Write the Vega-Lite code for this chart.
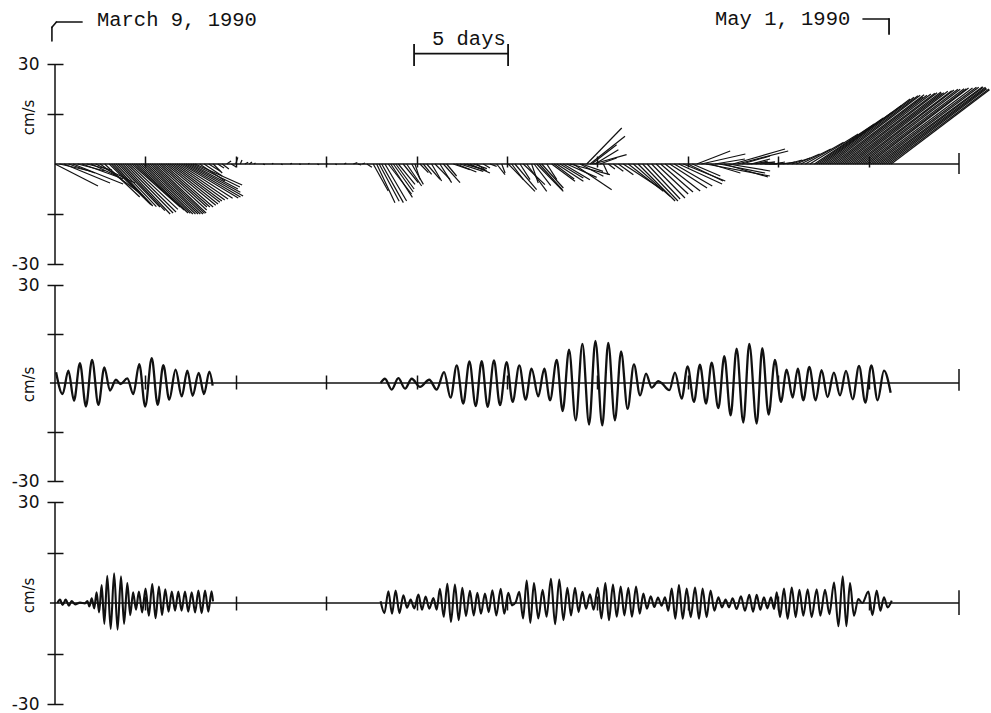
{
  "$schema": "https://vega.github.io/schema/vega-lite/v6.json",
  "background": "white",
  "padding": {"left": 11, "top": 8, "right": 0, "bottom": 0},
  "bounds": "flush",
  "spacing": 21,
  "config": {
    "view": {"stroke": null},
    "axis": {
      "grid": false, "domain": false, "tickColor": "#111", "tickWidth": 1.5,
      "labelColor": "#111", "titleColor": "#111",
      "labelFont": "DejaVu Sans", "labelFontSize": 17,
      "titleFont": "DejaVu Sans", "titleFontSize": 15, "titleFontWeight": "normal"
    }
  },
  "datasets": {
    "sticks": [
      {"t":0,"u":12.9,"v":-6.6},{"t":0.25,"u":9.2,"v":-2.1},{"t":0.5,"u":13.8,"v":-5.7},{"t":0.75,"u":7.9,"v":-2.7},
      {"t":1,"u":15,"v":-6},{"t":1.25,"u":8.2,"v":-2.1},{"t":1.5,"u":10.8,"v":-3.9},{"t":1.75,"u":7.6,"v":-1.8},
      {"t":2,"u":9.6,"v":-4.5},{"t":2.25,"u":11.8,"v":-5.7},{"t":2.5,"u":11.1,"v":-8.1},{"t":2.75,"u":10.5,"v":-9.9},
      {"t":3,"u":12.3,"v":-12},{"t":3.125,"u":12,"v":-12.3},{"t":3.25,"u":11.7,"v":-12.6},{"t":3.375,"u":12.1,"v":-12.8},
      {"t":3.5,"u":12.5,"v":-12.9},{"t":3.625,"u":13.3,"v":-14},{"t":3.75,"u":14.2,"v":-15},{"t":3.875,"u":14.4,"v":-14.7},
      {"t":4,"u":14.6,"v":-14.4},{"t":4.125,"u":14.5,"v":-13.6},{"t":4.25,"u":14.5,"v":-12.9},{"t":4.375,"u":15,"v":-13.8},
      {"t":4.5,"u":15.5,"v":-14.7},{"t":4.625,"u":15.5,"v":-14.8},{"t":4.75,"u":15.6,"v":-15},{"t":4.875,"u":15.7,"v":-15},
      {"t":5,"u":15.8,"v":-15},{"t":5.125,"u":15.8,"v":-15},{"t":5.25,"u":15.9,"v":-15},{"t":5.375,"u":15.7,"v":-14.8},
      {"t":5.5,"u":15.5,"v":-14.7},{"t":5.625,"u":15,"v":-13.8},{"t":5.75,"u":14.4,"v":-12.9},{"t":5.875,"u":14.6,"v":-12.9},
      {"t":6,"u":14.9,"v":-12.9},{"t":6.125,"u":15,"v":-12.4},{"t":6.25,"u":15,"v":-12},{"t":6.375,"u":14.9,"v":-11.5},
      {"t":6.5,"u":14.8,"v":-11.1},{"t":6.625,"u":15,"v":-10.8},{"t":6.75,"u":15.3,"v":-10.5},{"t":6.875,"u":16,"v":-10.3},
      {"t":7,"u":17,"v":-10.2},{"t":7.125,"u":17,"v":-9.9},{"t":7.25,"u":17.1,"v":-9.6},{"t":7.375,"u":15.6,"v":-8.5},
      {"t":7.5,"u":14.2,"v":-7.5},{"t":7.625,"u":14.1,"v":-6.9},{"t":7.75,"u":14.1,"v":-6.3},{"t":8,"u":7.6,"v":-5.1},
      {"t":8.25,"u":5.4,"v":-3.6},{"t":8.5,"u":3.4,"v":-2.1},{"t":8.75,"u":2.7,"v":-2.7},{"t":9,"u":1.9,"v":-1.2},
      {"t":9.25,"u":2,"v":-1.5},{"t":9.5,"u":1.3,"v":0.9},{"t":9.75,"u":1.5,"v":-0.9},{"t":10,"u":0.6,"v":2},
      {"t":10.25,"u":0.5,"v":1.2},{"t":10.5,"u":1,"v":0.5},{"t":10.75,"u":0.8,"v":0.6},{"t":11,"u":0.5,"v":0.3},
      {"t":11.5,"u":0.6,"v":-0.2},{"t":12,"u":0.4,"v":0.2},{"t":12.5,"u":0.5,"v":-0.2},{"t":13,"u":0.6,"v":0.2},
      {"t":13.5,"u":0.5,"v":-0.1},{"t":14,"u":0.4,"v":0.2},{"t":14.5,"u":0.6,"v":-0.2},{"t":15,"u":0.4,"v":0.1},
      {"t":15.5,"u":0.5,"v":-0.2},{"t":16,"u":0.6,"v":0.3},{"t":16.5,"u":1.2,"v":0.4},{"t":16.75,"u":1,"v":-0.3},
      {"t":17,"u":0.8,"v":0.3},{"t":17.25,"u":1.5,"v":-1},
      {"t":17.6,"u":4.5,"v":-8.1},{"t":17.79,"u":5.5,"v":-11.6},{"t":17.93,"u":6,"v":-11.2},{"t":18.07,"u":6.5,"v":-11.6},
      {"t":18.25,"u":6.5,"v":-11.1},{"t":18.43,"u":7,"v":-9},{"t":18.57,"u":6.5,"v":-10},{"t":18.71,"u":6,"v":-8.4},
      {"t":18.85,"u":5.5,"v":-7.5},{"t":18.99,"u":5,"v":-6.1},{"t":19.26,"u":4.5,"v":-5.6},{"t":19.45,"u":4.5,"v":-6.6},
      {"t":19.73,"u":3.5,"v":-6.1},{"t":19.91,"u":1.5,"v":-4.6},{"t":20.19,"u":2.5,"v":-2.6},{"t":20.37,"u":2.5,"v":-3.1},
      {"t":20.56,"u":4,"v":-4.6},{"t":20.83,"u":3,"v":-5.1},{"t":21.02,"u":4.5,"v":-4.6},{"t":21.29,"u":3.5,"v":-5.6},
      {"t":21.48,"u":5,"v":-5.6},{"t":21.66,"u":3,"v":-3.6},{"t":22.03,"u":5,"v":-1.7},{"t":22.2,"u":6,"v":-2.4},
      {"t":22.4,"u":7,"v":-2.2},{"t":22.6,"u":5.5,"v":-1.5},{"t":22.77,"u":6,"v":-2},{"t":22.95,"u":6,"v":-2.7},
      {"t":23.15,"u":4,"v":-1.4},{"t":23.32,"u":2.5,"v":-1.7},{"t":23.69,"u":2,"v":-1.2},{"t":24.06,"u":2,"v":-0.7},
      {"t":24.43,"u":2.5,"v":-3.2},{"t":24.71,"u":1,"v":-2.7},
      {"t":25.07,"u":8,"v":-8.2},{"t":25.26,"u":3.5,"v":-4.7},{"t":25.44,"u":6.5,"v":-7.7},{"t":25.72,"u":3,"v":-4.7},
      {"t":25.9,"u":6.5,"v":-6.2},{"t":26.09,"u":6,"v":-8.2},{"t":26.36,"u":2,"v":-5.7},{"t":26.5,"u":5,"v":-6.5},
      {"t":26.64,"u":8,"v":-8.2},{"t":26.78,"u":7,"v":-7.8},{"t":26.92,"u":6.5,"v":-7.2},{"t":27.2,"u":3,"v":-4.7},
      {"t":27.47,"u":7,"v":-5.2},{"t":27.61,"u":6,"v":-4.5},{"t":27.75,"u":8,"v":-5.2},{"t":27.93,"u":7,"v":-4.2},
      {"t":28.11,"u":8,"v":-4.7},{"t":28.3,"u":9,"v":-4},{"t":28.48,"u":12,"v":-3.2},{"t":28.67,"u":11.5,"v":-7.7},
      {"t":29.04,"u":7,"v":-3.7},{"t":29.13,"u":6.4,"v":-2.2},
      {"t":29.41,"u":10.5,"v":10.8},{"t":29.59,"u":10.5,"v":8.3},{"t":29.68,"u":7.5,"v":5.8},{"t":29.77,"u":10,"v":2.8},
      {"t":29.87,"u":7,"v":4.3},{"t":30.14,"u":5,"v":1.8},{"t":30.33,"u":1.5,"v":-3.2},
      {"t":30.6,"u":2,"v":-1.5},{"t":30.88,"u":3,"v":-2.2},{"t":31.16,"u":4.5,"v":-3.2},{"t":31.43,"u":11,"v":-7.2},
      {"t":31.71,"u":10.5,"v":-8.2},{"t":31.99,"u":11,"v":-9.7},{"t":32.25,"u":11.1,"v":-11.1},{"t":32.5,"u":10.6,"v":-11.1},
      {"t":32.75,"u":9.9,"v":-10.5},{"t":33,"u":10,"v":-10.2},{"t":33.25,"u":9.6,"v":-9},{"t":33.5,"u":9.7,"v":-8.4},
      {"t":33.75,"u":10.5,"v":-8.1},{"t":34,"u":11.2,"v":-7.2},{"t":34.25,"u":11.4,"v":-6.6},{"t":34.5,"u":13,"v":-6},
      {"t":34.75,"u":12.6,"v":-5.1},{"t":35,"u":10.6,"v":-5.1},{"t":35.25,"u":8.4,"v":-3.6},{"t":35.5,"u":10,"v":3.9},
      {"t":35.75,"u":13.2,"v":3},{"t":36,"u":19.2,"v":-3.6},{"t":36.25,"u":9,"v":-2.7},{"t":36.5,"u":9,"v":1.5},
      {"t":36.75,"u":13.7,"v":-2.7},{"t":37,"u":13.2,"v":-3.9},{"t":37.25,"u":12.5,"v":-2.1},{"t":37.5,"u":15.6,"v":4.5},
      {"t":37.75,"u":15.2,"v":3.9},{"t":38,"u":8.4,"v":2.4},{"t":38.25,"u":8.5,"v":0.6},{"t":38.5,"u":5.7,"v":1.5},
      {"t":38.75,"u":3.7,"v":0.9},{"t":39,"u":4.5,"v":0.6},{"t":39.25,"u":3.7,"v":0},{"t":39.5,"u":4.2,"v":0.3},
      {"t":39.75,"u":3.4,"v":0.6},{"t":40,"u":3.6,"v":0.3},{"t":40.25,"u":3.7,"v":0.6},
      {"t":40.5,"u":4.5,"v":1.2},{"t":40.75,"u":5.5,"v":1.8},{"t":41,"u":7,"v":3},{"t":41.25,"u":9,"v":4.5},
      {"t":41.5,"u":11.5,"v":6.5},{"t":41.75,"u":14.5,"v":9},{"t":42,"u":18,"v":12},{"t":42.125,"u":20,"v":13.8},
      {"t":42.25,"u":22,"v":15.5},{"t":42.375,"u":24,"v":17.5},{"t":42.5,"u":26,"v":19.5},{"t":42.625,"u":26.5,"v":20},
      {"t":42.75,"u":27,"v":20.5},{"t":42.875,"u":27,"v":20.6},{"t":43,"u":27.5,"v":20.8},{"t":43.125,"u":26.5,"v":20.2},
      {"t":43.25,"u":27,"v":20.6},{"t":43.375,"u":27.5,"v":21},{"t":43.5,"u":28,"v":21.2},{"t":43.625,"u":28,"v":21.4},
      {"t":43.75,"u":28.5,"v":21.6},{"t":43.875,"u":28,"v":21.3},{"t":44,"u":28,"v":21.4},{"t":44.125,"u":28.5,"v":21.8},
      {"t":44.25,"u":29,"v":22},{"t":44.375,"u":29,"v":22.2},{"t":44.5,"u":29.5,"v":22.4},{"t":44.625,"u":29.5,"v":22.4},
      {"t":44.75,"u":30,"v":22.6},{"t":44.875,"u":30,"v":22.6},{"t":45,"u":30,"v":22.8},{"t":45.125,"u":30.5,"v":22.8},
      {"t":45.25,"u":31,"v":23},{"t":45.375,"u":31,"v":23},{"t":45.5,"u":31.5,"v":23.2},{"t":45.625,"u":31,"v":23},
      {"t":45.75,"u":31,"v":23},{"t":45.875,"u":30.5,"v":22.8},{"t":46,"u":30,"v":22.6},{"t":46.125,"u":30,"v":22.5},
      {"t":46.25,"u":29.5,"v":22.3}
    ],
    "tideA": [
      {"seg":1,"t":0.06,"v":3.3},{"seg":1,"t":0.42,"v":-3.4},{"seg":1,"t":0.74,"v":3.8},{"seg":1,"t":1.05,"v":-5.4},
      {"seg":1,"t":1.38,"v":6.1},{"seg":1,"t":1.71,"v":-7.2},{"seg":1,"t":2.05,"v":7.1},{"seg":1,"t":2.4,"v":-6.7},
      {"seg":1,"t":2.73,"v":4.8},{"seg":1,"t":3.04,"v":-2.3},{"seg":1,"t":3.37,"v":1.0},{"seg":1,"t":3.63,"v":-0.3},
      {"seg":1,"t":4.0,"v":1.4},{"seg":1,"t":4.33,"v":-3.4},{"seg":1,"t":4.66,"v":5.8},{"seg":1,"t":4.99,"v":-7.2},
      {"seg":1,"t":5.35,"v":7.6},{"seg":1,"t":5.68,"v":-6.7},{"seg":1,"t":5.99,"v":5.5},{"seg":1,"t":6.32,"v":-5.1},
      {"seg":1,"t":6.67,"v":4.1},{"seg":1,"t":7.01,"v":-4.1},{"seg":1,"t":7.32,"v":3.8},{"seg":1,"t":7.61,"v":-3.9},
      {"seg":1,"t":7.95,"v":3.1},{"seg":1,"t":8.24,"v":-3.4},{"seg":1,"t":8.54,"v":3.5},{"seg":1,"t":8.72,"v":-0.8},
      {"seg":2,"t":18.01,"v":0},{"seg":2,"t":18.25,"v":1.3},{"seg":2,"t":18.62,"v":-2.0},{"seg":2,"t":18.99,"v":1.5},
      {"seg":2,"t":19.36,"v":-1.7},{"seg":2,"t":19.73,"v":1.3},{"seg":2,"t":20.19,"v":-1.2},{"seg":2,"t":20.7,"v":1.0},
      {"seg":2,"t":21.11,"v":-2.0},{"seg":2,"t":21.52,"v":3.3},{"seg":2,"t":21.88,"v":-4.5},{"seg":2,"t":22.22,"v":5.4},
      {"seg":2,"t":22.58,"v":-6.3},{"seg":2,"t":22.92,"v":6.6},{"seg":2,"t":23.27,"v":-7.1},{"seg":2,"t":23.6,"v":6.7},
      {"seg":2,"t":23.93,"v":-7.3},{"seg":2,"t":24.28,"v":6.9},{"seg":2,"t":24.61,"v":-6.8},{"seg":2,"t":24.98,"v":6.4},
      {"seg":2,"t":25.31,"v":-5.8},{"seg":2,"t":25.68,"v":5.4},{"seg":2,"t":26.03,"v":-5.1},{"seg":2,"t":26.36,"v":4.4},
      {"seg":2,"t":26.73,"v":-4.1},{"seg":2,"t":27.06,"v":4.4},{"seg":2,"t":27.38,"v":-5.3},{"seg":2,"t":27.75,"v":7.1},
      {"seg":2,"t":28.08,"v":-8.6},{"seg":2,"t":28.43,"v":10.2},{"seg":2,"t":28.8,"v":-11.4},{"seg":2,"t":29.17,"v":12.0},
      {"seg":2,"t":29.54,"v":-12.7},{"seg":2,"t":29.89,"v":12.9},{"seg":2,"t":30.27,"v":-13.0},{"seg":2,"t":30.6,"v":12.3},
      {"seg":2,"t":30.97,"v":-11.4},{"seg":2,"t":31.31,"v":9.7},{"seg":2,"t":31.67,"v":-7.9},{"seg":2,"t":32.02,"v":5.7},
      {"seg":2,"t":32.36,"v":-3.8},{"seg":2,"t":32.69,"v":2.9},{"seg":2,"t":33.0,"v":-1.4},{"seg":2,"t":33.37,"v":0.6},
      {"seg":2,"t":33.55,"v":0.0},{"seg":2,"t":33.98,"v":-2.2},{"seg":2,"t":34.29,"v":3.2},{"seg":2,"t":34.66,"v":-4.8},
      {"seg":2,"t":34.99,"v":5.1},{"seg":2,"t":35.34,"v":-5.8},{"seg":2,"t":35.67,"v":5.6},{"seg":2,"t":36.01,"v":-6.3},
      {"seg":2,"t":36.32,"v":6.2},{"seg":2,"t":36.69,"v":-7.7},{"seg":2,"t":37.02,"v":8.2},{"seg":2,"t":37.37,"v":-9.9},
      {"seg":2,"t":37.7,"v":10.5},{"seg":2,"t":38.07,"v":-12.1},{"seg":2,"t":38.4,"v":12.0},{"seg":2,"t":38.81,"v":-12.4},
      {"seg":2,"t":39.12,"v":10.7},{"seg":2,"t":39.47,"v":-9.7},{"seg":2,"t":39.82,"v":7.1},{"seg":2,"t":40.15,"v":-5.8},
      {"seg":2,"t":40.47,"v":4.1},{"seg":2,"t":40.8,"v":-4.5},{"seg":2,"t":41.08,"v":4.4},{"seg":2,"t":41.39,"v":-5.3},
      {"seg":2,"t":41.72,"v":4.9},{"seg":2,"t":42.07,"v":-5.3},{"seg":2,"t":42.4,"v":3.9},{"seg":2,"t":42.73,"v":-4.3},
      {"seg":2,"t":43.08,"v":3.2},{"seg":2,"t":43.42,"v":-3.8},{"seg":2,"t":43.75,"v":3.7},{"seg":2,"t":44.12,"v":-5.0},
      {"seg":2,"t":44.47,"v":5.2},{"seg":2,"t":44.82,"v":-6.0},{"seg":2,"t":45.15,"v":5.4},{"seg":2,"t":45.5,"v":-5.3},
      {"seg":2,"t":45.85,"v":3.8},{"seg":2,"t":46.22,"v":-3.0}
    ],
    "tideB": [
      {"seg":1,"t":0.13,"v":0},{"seg":1,"t":0.28,"v":1.0},{"seg":1,"t":0.42,"v":-0.6},{"seg":1,"t":0.59,"v":1.0},
      {"seg":1,"t":0.77,"v":-0.8},{"seg":1,"t":0.92,"v":0.6},{"seg":1,"t":1.11,"v":-0.4},{"seg":1,"t":1.38,"v":0.1},
      {"seg":1,"t":1.66,"v":-0.1},{"seg":1,"t":1.79,"v":0.6},{"seg":1,"t":1.9,"v":-1.0},{"seg":1,"t":2.03,"v":1.4},
      {"seg":1,"t":2.17,"v":-1.6},{"seg":1,"t":2.3,"v":3.2},{"seg":1,"t":2.44,"v":-2.8},{"seg":1,"t":2.58,"v":5.3},
      {"seg":1,"t":2.73,"v":-6.2},{"seg":1,"t":2.89,"v":8.1},{"seg":1,"t":3.08,"v":-7.7},{"seg":1,"t":3.27,"v":8.8},
      {"seg":1,"t":3.46,"v":-7.9},{"seg":1,"t":3.65,"v":7.9},{"seg":1,"t":3.82,"v":-6.2},{"seg":1,"t":4.0,"v":5.9},
      {"seg":1,"t":4.16,"v":-3.6},{"seg":1,"t":4.32,"v":3.2},{"seg":1,"t":4.48,"v":-2.0},{"seg":1,"t":4.64,"v":3.4},
      {"seg":1,"t":4.82,"v":-2.8},{"seg":1,"t":5.01,"v":4.3},{"seg":1,"t":5.19,"v":-3.8},{"seg":1,"t":5.38,"v":5.6},
      {"seg":1,"t":5.56,"v":-4.5},{"seg":1,"t":5.75,"v":4.9},{"seg":1,"t":5.92,"v":-3.6},{"seg":1,"t":6.1,"v":4.1},
      {"seg":1,"t":6.28,"v":-2.6},{"seg":1,"t":6.46,"v":3.4},{"seg":1,"t":6.64,"v":-2.3},{"seg":1,"t":6.82,"v":3.4},
      {"seg":1,"t":7.0,"v":-2.3},{"seg":1,"t":7.19,"v":3.4},{"seg":1,"t":7.37,"v":-2.6},{"seg":1,"t":7.56,"v":3.2},
      {"seg":1,"t":7.75,"v":-2.8},{"seg":1,"t":7.93,"v":3.7},{"seg":1,"t":8.11,"v":-3.0},{"seg":1,"t":8.3,"v":3.7},
      {"seg":1,"t":8.48,"v":-2.6},{"seg":1,"t":8.66,"v":3.5},{"seg":1,"t":8.74,"v":0.5},
      {"seg":2,"t":18.01,"v":0.5},{"seg":2,"t":18.22,"v":-3.0},{"seg":2,"t":18.44,"v":3.5},{"seg":2,"t":18.64,"v":-3.2},
      {"seg":2,"t":18.84,"v":3.7},{"seg":2,"t":19.05,"v":-3.0},{"seg":2,"t":19.27,"v":2.3},{"seg":2,"t":19.47,"v":-1.4},
      {"seg":2,"t":19.67,"v":1.0},{"seg":2,"t":19.87,"v":-1.6},{"seg":2,"t":20.1,"v":2.5},{"seg":2,"t":20.3,"v":-2.0},
      {"seg":2,"t":20.5,"v":1.9},{"seg":2,"t":20.7,"v":-1.7},{"seg":2,"t":20.93,"v":1.5},{"seg":2,"t":21.11,"v":-2.0},
      {"seg":2,"t":21.29,"v":4.2},{"seg":2,"t":21.5,"v":-4.1},{"seg":2,"t":21.7,"v":5.7},{"seg":2,"t":21.9,"v":-5.6},
      {"seg":2,"t":22.12,"v":5.5},{"seg":2,"t":22.33,"v":-5.1},{"seg":2,"t":22.53,"v":4.5},{"seg":2,"t":22.73,"v":-3.9},
      {"seg":2,"t":22.95,"v":3.6},{"seg":2,"t":23.16,"v":-3.7},{"seg":2,"t":23.36,"v":3.0},{"seg":2,"t":23.56,"v":-3.2},
      {"seg":2,"t":23.78,"v":2.8},{"seg":2,"t":23.99,"v":-2.7},{"seg":2,"t":24.19,"v":3.8},{"seg":2,"t":24.41,"v":-3.7},
      {"seg":2,"t":24.65,"v":4.2},{"seg":2,"t":24.85,"v":-3.2},{"seg":2,"t":25.07,"v":3.0},{"seg":2,"t":25.28,"v":-0.7},
      {"seg":2,"t":25.48,"v":0.2},{"seg":2,"t":25.68,"v":3.3},{"seg":2,"t":25.89,"v":-4.6},{"seg":2,"t":26.09,"v":6.7},
      {"seg":2,"t":26.29,"v":-5.9},{"seg":2,"t":26.49,"v":5.9},{"seg":2,"t":26.73,"v":-4.6},{"seg":2,"t":26.97,"v":3.9},
      {"seg":2,"t":27.19,"v":-4.1},{"seg":2,"t":27.43,"v":7.2},{"seg":2,"t":27.66,"v":-6.3},{"seg":2,"t":27.89,"v":7.0},
      {"seg":2,"t":28.12,"v":-5.1},{"seg":2,"t":28.34,"v":4.5},{"seg":2,"t":28.54,"v":-3.7},{"seg":2,"t":28.76,"v":4.5},
      {"seg":2,"t":28.96,"v":-2.7},{"seg":2,"t":29.17,"v":3.3},{"seg":2,"t":29.37,"v":-1.7},{"seg":2,"t":29.59,"v":2.6},
      {"seg":2,"t":29.79,"v":-2.0},{"seg":2,"t":30.02,"v":4.5},{"seg":2,"t":30.22,"v":-4.6},{"seg":2,"t":30.44,"v":5.9},
      {"seg":2,"t":30.64,"v":-5.1},{"seg":2,"t":30.86,"v":5.5},{"seg":2,"t":31.07,"v":-4.1},{"seg":2,"t":31.29,"v":4.9},
      {"seg":2,"t":31.49,"v":-3.7},{"seg":2,"t":31.71,"v":4.5},{"seg":2,"t":31.91,"v":-4.1},{"seg":2,"t":32.14,"v":4.9},
      {"seg":2,"t":32.34,"v":-3.2},{"seg":2,"t":32.54,"v":2.8},{"seg":2,"t":32.74,"v":-1.7},{"seg":2,"t":32.95,"v":2.0},
      {"seg":2,"t":33.15,"v":-1.2},{"seg":2,"t":33.35,"v":1.6},{"seg":2,"t":33.55,"v":-0.8},{"seg":2,"t":33.74,"v":1.7},
      {"seg":2,"t":33.92,"v":-2.3},{"seg":2,"t":34.11,"v":4.3},{"seg":2,"t":34.31,"v":-4.7},{"seg":2,"t":34.51,"v":5.3},
      {"seg":2,"t":34.72,"v":-4.7},{"seg":2,"t":34.94,"v":4.3},{"seg":2,"t":35.16,"v":-4.2},{"seg":2,"t":35.4,"v":4.6},
      {"seg":2,"t":35.62,"v":-4.7},{"seg":2,"t":35.82,"v":4.3},{"seg":2,"t":36.04,"v":-4.2},{"seg":2,"t":36.26,"v":3.7},
      {"seg":2,"t":36.47,"v":-2.3},{"seg":2,"t":36.69,"v":1.7},{"seg":2,"t":36.89,"v":-1.3},{"seg":2,"t":37.09,"v":1.0},
      {"seg":2,"t":37.28,"v":-1.3},{"seg":2,"t":37.48,"v":1.4},{"seg":2,"t":37.7,"v":-1.8},{"seg":2,"t":37.94,"v":2.0},
      {"seg":2,"t":38.16,"v":-2.3},{"seg":2,"t":38.4,"v":2.4},{"seg":2,"t":38.61,"v":-2.6},{"seg":2,"t":38.81,"v":2.4},
      {"seg":2,"t":39.01,"v":-2.0},{"seg":2,"t":39.21,"v":1.7},{"seg":2,"t":39.4,"v":-1.6},{"seg":2,"t":39.6,"v":1.7},
      {"seg":2,"t":39.77,"v":-1.8},{"seg":2,"t":39.92,"v":3.2},{"seg":2,"t":40.1,"v":-4.2},{"seg":2,"t":40.32,"v":4.3},
      {"seg":2,"t":40.52,"v":-4.7},{"seg":2,"t":40.75,"v":4.6},{"seg":2,"t":40.97,"v":-4.2},{"seg":2,"t":41.17,"v":3.9},
      {"seg":2,"t":41.39,"v":-3.8},{"seg":2,"t":41.63,"v":4.1},{"seg":2,"t":41.85,"v":-4.2},{"seg":2,"t":42.13,"v":4.1},
      {"seg":2,"t":42.33,"v":-3.8},{"seg":2,"t":42.59,"v":3.9},{"seg":2,"t":42.83,"v":-3.3},{"seg":2,"t":43.09,"v":6.1},
      {"seg":2,"t":43.33,"v":-6.9},{"seg":2,"t":43.57,"v":7.9},{"seg":2,"t":43.77,"v":-6.9},{"seg":2,"t":43.97,"v":5.9},
      {"seg":2,"t":44.19,"v":-3.8},{"seg":2,"t":44.43,"v":1.2},{"seg":2,"t":44.65,"v":0.0},{"seg":2,"t":44.99,"v":3.4},
      {"seg":2,"t":45.21,"v":-3.6},{"seg":2,"t":45.45,"v":3.7},{"seg":2,"t":45.65,"v":-2.3},{"seg":2,"t":45.85,"v":1.7},
      {"seg":2,"t":46.05,"v":-1.3},{"seg":2,"t":46.28,"v":0.7}
    ]
  },
  "vconcat": [
    {
      "width": 904,
      "height": 200,
      "encoding": {
        "x": {"type": "quantitative", "scale": {"domain": [0, 50], "nice": false, "zero": false},
              "axis": {"orient": "bottom", "offset": -108, "tickSize": 11, "title": null, "labels": false,
                       "values": [5, 10, 15, 20, 25, 30, 35, 40, 45]}},
        "y": {"type": "quantitative", "scale": {"domain": [-30, 30], "nice": false},
              "axis": {"orient": "left", "offset": -8, "tickSize": 16, "values": [-30, -15, 15, 30],
                       "labelExpr": "datum.value == 30 ? '30' : datum.value == -30 ? '-30' : ''", "labelPadding": 8,
                       "labelFontSize": 17, "titleFontSize": 15,
                       "title": "cm/s", "titleX": -35, "titleY": 53, "titleAngle": -90, "titleAlign": "center", "titleBaseline": "middle"}}
      },
      "layer": [
        {
          "data": {"name": "sticks"},
          "transform": [{"calculate": "datum.t + datum.u * 0.18437", "as": "tip"}],
          "mark": {"type": "rule", "color": "#111", "strokeWidth": 1.2},
          "encoding": {
            "x": {"field": "tip"},
            "x2": {"field": "t"},
            "y": {"field": "v"},
            "y2": {"datum": 0}
          }
        },
        {
          "data": {"values": [{}]},
          "mark": {"type": "rule", "color": "#111", "strokeWidth": 1.6},
          "encoding": {"x": {"datum": 0}, "x2": {"datum": 50}, "y": {"datum": 0}}
        },
        {
          "data": {"values": [{}]},
          "mark": {"type": "rule", "color": "#111", "strokeWidth": 1.5},
          "encoding": {"x": {"datum": 0}, "y": {"datum": -30}, "y2": {"datum": 30}}
        },
        {
          "data": {"values": [{}]},
          "mark": {"type": "rule", "color": "#111", "strokeWidth": 1.5},
          "encoding": {"x": {"datum": 50}, "y": {"datum": -3.0}, "y2": {"datum": 3.3}}
        },
        {
          "data": {"values": [{}]},
          "mark": {"type": "rule", "color": "#111", "strokeWidth": 1.6, "strokeCap": "round"},
          "encoding": {"x": {"datum": -0.17}, "y": {"datum": 36.9}, "y2": {"datum": 41.0}}
        },
        {
          "data": {"values": [{}]},
          "mark": {"type": "rule", "color": "#111", "strokeWidth": 1.6, "strokeCap": "round"},
          "encoding": {"x": {"datum": -0.17}, "x2": {"datum": 0.08}, "y": {"datum": 41.0}, "y2": {"datum": 42.6}}
        },
        {
          "data": {"values": [{}]},
          "mark": {"type": "rule", "color": "#111", "strokeWidth": 1.6, "strokeCap": "round"},
          "encoding": {"x": {"datum": 0.08}, "x2": {"datum": 1.5}, "y": {"datum": 42.6}}
        },
        {
          "data": {"values": [{}]},
          "mark": {"type": "rule", "color": "#111", "strokeWidth": 1.6},
          "encoding": {"x": {"datum": 19.86}, "x2": {"datum": 25.06}, "y": {"datum": 33.1}}
        },
        {
          "data": {"values": [{}]},
          "mark": {"type": "rule", "color": "#111", "strokeWidth": 1.8},
          "encoding": {"x": {"datum": 19.86}, "y": {"datum": 29.4}, "y2": {"datum": 36.0}}
        },
        {
          "data": {"values": [{}]},
          "mark": {"type": "rule", "color": "#111", "strokeWidth": 1.8},
          "encoding": {"x": {"datum": 25.06}, "y": {"datum": 29.4}, "y2": {"datum": 36.0}}
        },
        {
          "data": {"values": [{}]},
          "mark": {"type": "rule", "color": "#111", "strokeWidth": 1.6, "strokeCap": "round"},
          "encoding": {"x": {"datum": 44.69}, "x2": {"datum": 46.13}, "y": {"datum": 43.5}}
        },
        {
          "data": {"values": [{}]},
          "mark": {"type": "rule", "color": "#111", "strokeWidth": 1.8, "strokeCap": "round"},
          "encoding": {"x": {"datum": 46.13}, "y": {"datum": 39.0}, "y2": {"datum": 43.5}}
        },
        {
          "data": {"values": [{}]},
          "mark": {"type": "text", "text": "March 9, 1990", "font": "Liberation Mono", "fontSize": 20.5, "color": "#111", "align": "left", "baseline": "alphabetic"},
          "encoding": {"x": {"datum": 2.32}, "y": {"datum": 41.5}}
        },
        {
          "data": {"values": [{}]},
          "mark": {"type": "text", "text": "5 days", "font": "Liberation Mono", "fontSize": 20.5, "color": "#111", "align": "left", "baseline": "alphabetic"},
          "encoding": {"x": {"datum": 20.85}, "y": {"datum": 35.7}}
        },
        {
          "data": {"values": [{}]},
          "mark": {"type": "text", "text": "May 1, 1990", "font": "Liberation Mono", "fontSize": 20.5, "color": "#111", "align": "left", "baseline": "alphabetic"},
          "encoding": {"x": {"datum": 36.5}, "y": {"datum": 41.7}}
        }
      ]
    },
    {
      "width": 904,
      "height": 196,
      "encoding": {
        "x": {"type": "quantitative", "scale": {"domain": [0, 50], "nice": false, "zero": false},
              "axis": {"orient": "bottom", "offset": -106, "tickSize": 14, "title": null, "labels": false,
                       "values": [5, 10, 15, 20, 25, 30, 35, 40, 45]}},
        "y": {"type": "quantitative", "scale": {"domain": [-30, 30], "nice": false},
              "axis": {"orient": "left", "offset": -8, "tickSize": 16, "values": [-30, -15, 15, 30],
                       "labelExpr": "datum.value == 30 ? '30' : datum.value == -30 ? '-30' : ''", "labelPadding": 8,
                       "labelFontSize": 17, "titleFontSize": 15,
                       "title": "cm/s", "titleX": -35, "titleY": 99, "titleAngle": -90, "titleAlign": "center", "titleBaseline": "middle"}}
      },
      "layer": [
        {
          "data": {"name": "tideA"},
          "mark": {"type": "line", "interpolate": "monotone", "color": "#111", "strokeWidth": 2.3},
          "encoding": {"x": {"field": "t"}, "y": {"field": "v"}, "detail": {"field": "seg"}}
        },
        {
          "data": {"values": [{}]},
          "mark": {"type": "rule", "color": "#111", "strokeWidth": 1.6},
          "encoding": {"x": {"datum": -0.28}, "x2": {"datum": 50}, "y": {"datum": 0}}
        },
        {
          "data": {"values": [{}]},
          "mark": {"type": "rule", "color": "#111", "strokeWidth": 1.5},
          "encoding": {"x": {"datum": 0}, "y": {"datum": -30}, "y2": {"datum": 30}}
        },
        {
          "data": {"values": [{}]},
          "mark": {"type": "rule", "color": "#111", "strokeWidth": 1.5},
          "encoding": {"x": {"datum": 50}, "y": {"datum": -2.4}, "y2": {"datum": 4.3}}
        }
      ]
    },
    {
      "width": 904,
      "height": 202,
      "encoding": {
        "x": {"type": "quantitative", "scale": {"domain": [0, 50], "nice": false, "zero": false},
              "axis": {"orient": "bottom", "offset": -108, "tickSize": 14, "title": null, "labels": false,
                       "values": [5, 10, 15, 20, 25, 30, 35, 40, 45]}},
        "y": {"type": "quantitative", "scale": {"domain": [-30, 30], "nice": false},
              "axis": {"orient": "left", "offset": -8, "tickSize": 16, "values": [-30, -15, 15, 30],
                       "labelExpr": "datum.value == 30 ? '30' : datum.value == -30 ? '-30' : ''", "labelPadding": 8,
                       "labelFontSize": 17, "titleFontSize": 15,
                       "title": "cm/s", "titleX": -35, "titleY": 93, "titleAngle": -90, "titleAlign": "center", "titleBaseline": "middle"}}
      },
      "layer": [
        {
          "data": {"name": "tideB"},
          "mark": {"type": "line", "interpolate": "monotone", "color": "#111", "strokeWidth": 2.1},
          "encoding": {"x": {"field": "t"}, "y": {"field": "v"}, "detail": {"field": "seg"}}
        },
        {
          "data": {"values": [{}]},
          "mark": {"type": "rule", "color": "#111", "strokeWidth": 1.6},
          "encoding": {"x": {"datum": -0.28}, "x2": {"datum": 50}, "y": {"datum": 0}}
        },
        {
          "data": {"values": [{}]},
          "mark": {"type": "rule", "color": "#111", "strokeWidth": 1.5},
          "encoding": {"x": {"datum": 0}, "y": {"datum": -30}, "y2": {"datum": 30}}
        },
        {
          "data": {"values": [{}]},
          "mark": {"type": "rule", "color": "#111", "strokeWidth": 1.5},
          "encoding": {"x": {"datum": 50}, "y": {"datum": -3.6}, "y2": {"datum": 3.8}}
        }
      ]
    }
  ]
}
